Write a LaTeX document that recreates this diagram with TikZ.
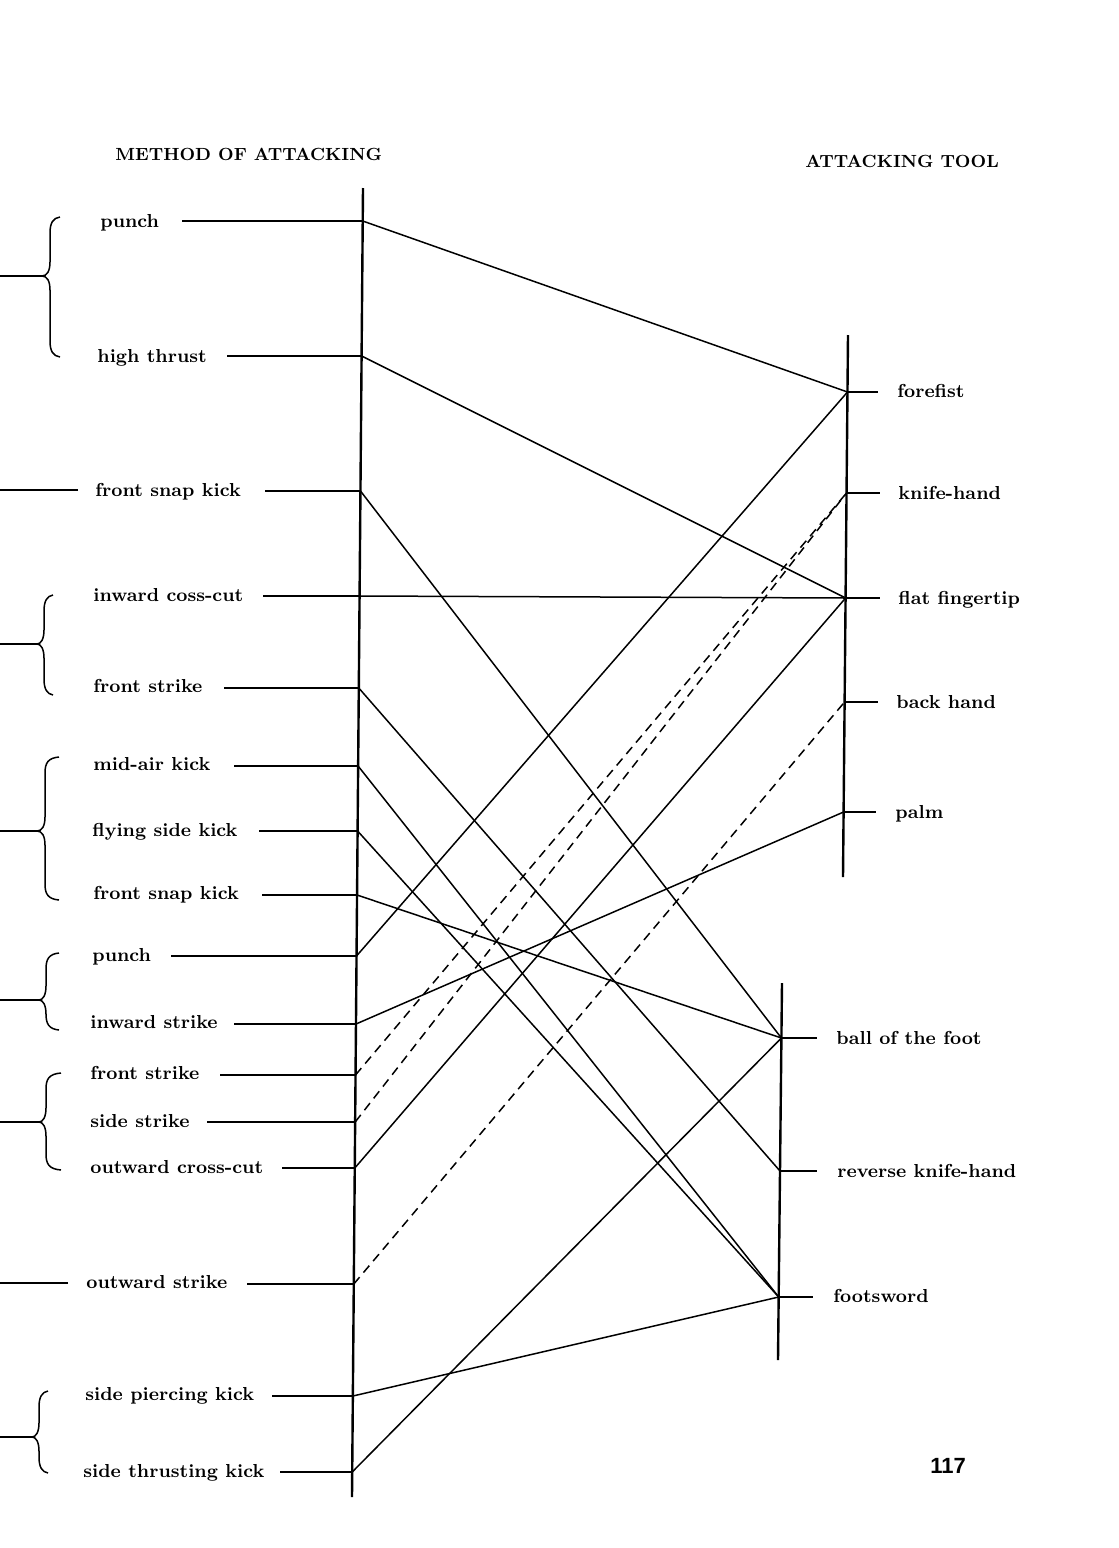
\documentclass[tikz,border=0pt]{standalone}
\usepackage{fontspec}
\newfontfamily\pagefont{Liberation Sans}
\tikzset{
  axis/.style={line width=1.2pt},
  stub/.style={line width=0.8pt},
  link/.style={line width=0.75pt},
  dlink/.style={line width=0.75pt, dash pattern=on 4.5pt off 3pt},
  lab/.style={anchor=base west, inner sep=0pt, font=\fontsize{9.4}{11}\selectfont\bfseries},
  head/.style={anchor=base west, inner sep=0pt, font=\fontsize{8.8}{10}\selectfont\bfseries},
  bracestyle/.style={line width=0.75pt}
}
\newcommand\mybrace[6]{% spine, ytop, ymid, ybot, tip, hook
  \draw[bracestyle] (#6,#2) .. controls ({#1+3},{#2+1}) and (#1,{#2+6}) .. (#1,{#2+16})
    -- (#1,{#3-14}) .. controls (#1,{#3-5}) and ({#1-3},#3) .. (#5,#3)
    .. controls ({#1-3},#3) and (#1,{#3+5}) .. (#1,{#3+14})
    -- (#1,{#4-16}) .. controls (#1,{#4-6}) and ({#1+3},{#4-1}) .. (#6,#4);
  \draw[stub] (#5,#3) -- (0,#3);
}
\begin{document}
\begin{tikzpicture}[x=0.5pt,y=-0.5pt]
\useasboundingbox (0,0) rectangle (1119,1548);

% headers
\node[head] (h1) at (115,160) {METHOD OF ATTACKING};
\node[head] (h2) at (805,167) {ATTACKING TOOL};

% axes
\coordinate (LT) at (363,188); \coordinate (LB) at (352,1497);
\coordinate (UT) at (848,335); \coordinate (UB) at (843,877);
\coordinate (FT) at (782,983); \coordinate (FB) at (778,1360);
\draw[axis] (LT) -- (LB);
\draw[axis] (UT) -- (UB);
\draw[axis] (FT) -- (FB);

% left axis points
\coordinate (a1) at (362.7,221);
\coordinate (a2) at (361.6,356);
\coordinate (a3) at (360.5,491);
\coordinate (a4) at (359.6,596);
\coordinate (a5) at (358.8,688);
\coordinate (a6) at (358.1,766);
\coordinate (a7) at (357.6,831);
\coordinate (a8) at (357.1,895);
\coordinate (a9) at (356.5,956);
\coordinate (a10) at (356.0,1024);
\coordinate (a11) at (355.5,1075);
\coordinate (a12) at (355.2,1122);
\coordinate (a13) at (354.8,1168);
\coordinate (a14) at (353.8,1284);
\coordinate (a15) at (352.9,1396);
\coordinate (a16) at (352.2,1472);

% stub starts
\coordinate (s1) at (182,221);
\coordinate (s2) at (227,356);
\coordinate (s3) at (265,491);
\coordinate (s4) at (263,596);
\coordinate (s5) at (224,688);
\coordinate (s6) at (234,766);
\coordinate (s7) at (259,831);
\coordinate (s8) at (262,895);
\coordinate (s9) at (171,956);
\coordinate (s10) at (234,1024);
\coordinate (s11) at (220,1075);
\coordinate (s12) at (207,1122);
\coordinate (s13) at (282,1168);
\coordinate (s14) at (247,1284);
\coordinate (s15) at (272,1396);
\coordinate (s16) at (280,1472);

% left labels
\node[lab] (l1) at (100,227) {punch};
\node[lab] (l2) at (97,362) {high thrust};
\node[lab] (l3) at (95,496) {front snap kick};
\node[lab] (l4) at (93,601) {inward coss-cut};
\node[lab] (l5) at (93,692) {front strike};
\node[lab] (l6) at (93,770) {mid-air kick};
\node[lab] (l7) at (92,836) {flying side kick};
\node[lab] (l8) at (93,899) {front snap kick};
\node[lab] (l9) at (92,961) {punch};
\node[lab] (l10) at (90,1028) {inward strike};
\node[lab] (l11) at (90,1079) {front strike};
\node[lab] (l12) at (90,1127) {side strike};
\node[lab] (l13) at (90,1173) {outward cross-cut};
\node[lab] (l14) at (86,1288) {outward strike};
\node[lab] (l15) at (85,1400) {side piercing kick};
\node[lab] (l16) at (83,1477) {side thrusting kick};

\foreach \i in {1,...,16} { \draw[stub] (s\i) -- (a\i); }

% braces and left-edge lines
\mybrace{50}{217}{276}{357}{42}{60}
\draw[stub] (78,490) -- (0,490);
\mybrace{44}{595}{644}{695}{37}{53}
\mybrace{45}{757}{831}{900}{37}{59}
\mybrace{46}{953}{1000}{1030}{39}{59}
\mybrace{46}{1073}{1122}{1170}{39}{61}
\draw[stub] (68,1283) -- (0,1283);
\mybrace{39}{1391}{1437}{1473}{32}{48}

% right upper axis points and labels
\coordinate (u1) at (847.5,392);
\coordinate (u2) at (846.5,493);
\coordinate (u3) at (845.6,598);
\coordinate (u4) at (844.6,702);
\coordinate (u5) at (843.6,812);
\coordinate (t1) at (878,392);
\coordinate (t2) at (880,493);
\coordinate (t3) at (880,598);
\coordinate (t4) at (878,702);
\coordinate (t5) at (876,812);
\node[lab] (r1) at (897,397) {forefist};
\node[lab] (r2) at (898,499) {knife-hand};
\node[lab] (r3) at (898,604) {flat fingertip};
\node[lab] (r4) at (896,708) {back hand};
\node[lab] (r5) at (895,818) {palm};
\foreach \i in {1,...,5} { \draw[stub] (u\i) -- (t\i); }

% right lower axis points and labels
\coordinate (f1) at (781.4,1038);
\coordinate (f2) at (780,1171);
\coordinate (f3) at (778.7,1297);
\coordinate (g1) at (817,1038);
\coordinate (g2) at (817,1171);
\coordinate (g3) at (813,1297);
\node[lab] (q1) at (836,1044) {ball of the foot};
\node[lab] (q2) at (837,1177) {reverse knife-hand};
\node[lab] (q3) at (833,1302) {footsword};
\foreach \i in {1,...,3} { \draw[stub] (f\i) -- (g\i); }

% connections
\draw[link] (a1) -- (u1);
\draw[link] (a2) -- (u3);
\draw[link] (a3) -- (f1);
\draw[link] (a4) -- (u3);
\draw[link] (a5) -- (f2);
\draw[link] (a6) -- (f3);
\draw[link] (a7) -- (f3);
\draw[link] (a8) -- (f1);
\draw[link] (a9) -- (u1);
\draw[link] (a10) -- (u5);
\draw[dlink] (a11) -- (u2);
\draw[dlink] (a12) -- (u2);
\draw[link] (a13) -- (u3);
\draw[dlink] (a14) -- (u4);
\draw[link] (a15) -- (f3);
\draw[link] (a16) -- (f1);

% page number
\node[anchor=base west, inner sep=0pt, font=\pagefont\fontsize{11}{13}\selectfont\bfseries] (pg) at (930,1473) {117};
\end{tikzpicture}
\end{document}
